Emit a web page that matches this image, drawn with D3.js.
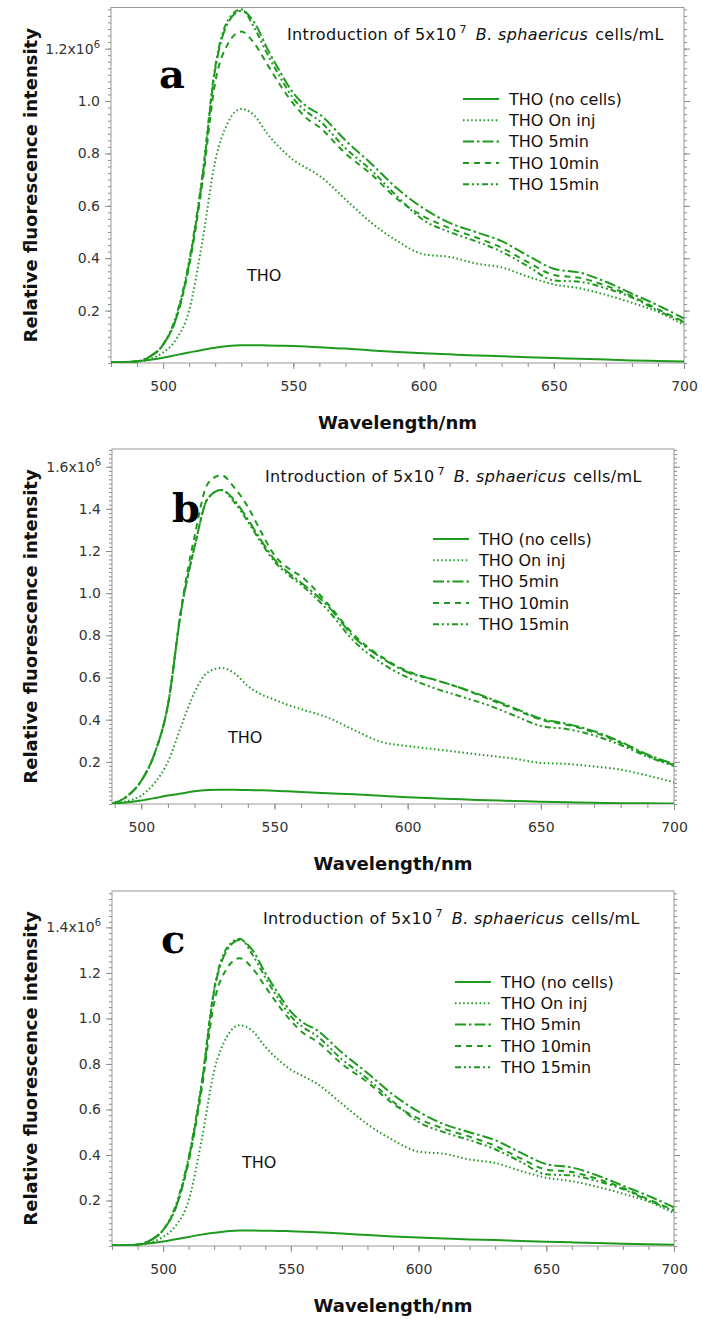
<!DOCTYPE html>
<html>
<head>
<meta charset="utf-8">
<script src="https://cdn.jsdelivr.net/npm/d3@7"></script>
<style>
body { margin: 0; background: #fff; }
svg { display: block; }
</style>
</head>
<body>
<svg id="chart" width="702" height="1319"></svg>
<script>
var wavelengths = [480,485,490,495,500,505,510,515,520,525,530,535,540,545,550,555,560,570,580,590,600,610,620,630,640,650,660,670,680,690,700];

var seriesNames = ["THO (no cells)", "THO On inj", "THO 5min", "THO 10min", "THO 15min"];

// panel a (panel c shows the same traces), intensity in 10^6
var aNoCells = [0.003,0.004,0.007,0.012,0.02,0.03,0.04,0.05,0.058,0.065,0.068,0.068,0.067,0.066,0.065,0.063,0.06,0.055,0.048,0.042,0.037,0.033,0.029,0.026,0.022,0.019,0.016,0.013,0.01,0.008,0.006];
var aOnInj   = [0.002,0.003,0.005,0.015,0.04,0.09,0.2,0.46,0.77,0.92,0.97,0.945,0.875,0.82,0.775,0.745,0.715,0.625,0.535,0.465,0.415,0.405,0.38,0.365,0.33,0.3,0.285,0.26,0.23,0.195,0.145];
var a5min    = [0.002,0.003,0.006,0.025,0.07,0.17,0.38,0.7,1.12,1.3,1.345,1.3,1.2,1.11,1.03,0.98,0.95,0.85,0.76,0.665,0.59,0.535,0.5,0.465,0.41,0.36,0.345,0.31,0.265,0.22,0.17];
var a10min   = [0.002,0.003,0.006,0.025,0.07,0.17,0.37,0.68,1.07,1.22,1.265,1.22,1.14,1.06,0.99,0.935,0.9,0.8,0.72,0.625,0.56,0.515,0.48,0.44,0.385,0.336,0.325,0.295,0.255,0.205,0.158];
var a15min   = [0.002,0.003,0.006,0.025,0.07,0.18,0.39,0.71,1.13,1.31,1.35,1.28,1.18,1.09,1.01,0.96,0.925,0.82,0.735,0.635,0.545,0.5,0.465,0.425,0.37,0.315,0.31,0.285,0.25,0.2,0.155];

// panel b
var bNoCells = [0,0,0.002,0.008,0.017,0.028,0.04,0.05,0.06,0.066,0.068,0.068,0.066,0.065,0.063,0.06,0.057,0.051,0.046,0.039,0.032,0.027,0.022,0.018,0.014,0.011,0.008,0.006,0.004,0.003,0.002];
var bOnInj   = [0,0,0.003,0.015,0.04,0.1,0.2,0.37,0.53,0.625,0.645,0.62,0.56,0.52,0.495,0.47,0.45,0.41,0.35,0.295,0.275,0.26,0.245,0.23,0.215,0.195,0.19,0.178,0.163,0.135,0.103];
var b5min    = [0,0,0.005,0.04,0.11,0.24,0.47,0.92,1.22,1.45,1.49,1.44,1.35,1.25,1.16,1.1,1.05,0.94,0.79,0.695,0.625,0.59,0.55,0.505,0.455,0.405,0.38,0.345,0.295,0.235,0.19];
var b10min   = [0,0,0.005,0.04,0.11,0.24,0.47,0.93,1.27,1.52,1.56,1.5,1.41,1.29,1.18,1.12,1.08,0.95,0.8,0.7,0.63,0.59,0.55,0.5,0.45,0.4,0.375,0.34,0.29,0.23,0.185];
var b15min   = [0,0,0.005,0.04,0.11,0.24,0.47,0.92,1.22,1.45,1.49,1.43,1.34,1.24,1.15,1.09,1.04,0.92,0.77,0.67,0.6,0.55,0.51,0.47,0.42,0.37,0.355,0.325,0.28,0.225,0.18];

var xTicks = [500,550,600,650,700];
var aYTicks = [0.2,0.4,0.6,0.8,1.0,1.2];
var bYTicks = [0.2,0.4,0.6,0.8,1.0,1.2,1.4,1.6];
var cYTicks = [0.2,0.4,0.6,0.8,1.0,1.2,1.4];

var green = "#1e9a1e";
var dashes = ["none", "1.5,2.6", "11,3,2.5,3", "6,5", "6,3,2,3,2,3"];

var svg = d3.select("#chart");

var panels = [
  { id: "a", series: [aNoCells, aOnInj, a5min, a10min, a15min], xMin: 480, yMax: 1.357, yTicks: aYTicks, minorStep: 0.025,
    l: 111, t: 7.5, r: 684, b: 363, titleX: 287, letterX: 159, letterY: 88, legX: 463, legY: 99, thoX: 247, thoY: 281 },
  { id: "b", series: [bNoCells, bOnInj, b5min, b10min, b15min], xMin: 489, yMax: 1.684, yTicks: bYTicks, minorStep: 0.02,
    l: 112, t: 449, r: 674, b: 804, titleX: 265, letterX: 172, letterY: 522, legX: 433, legY: 539, thoX: 228, thoY: 743 },
  { id: "c", series: [aNoCells, aOnInj, a5min, a10min, a15min], xMin: 480, yMax: 1.56, yTicks: cYTicks, minorStep: 0.025,
    l: 112, t: 891, r: 674, b: 1246, titleX: 263, letterX: 161, letterY: 953, legX: 455, legY: 982, thoX: 242, thoY: 1168 }
];

function styleAxis(sel) {
  sel.select(".domain").remove();
  sel.selectAll("line").attr("stroke", "#8c8c8c");
  sel.attr("font-family", "DejaVu Sans").attr("font-size", 14);
  sel.selectAll("text").attr("fill", "#333");
}

panels.forEach(function(p) {
  var g = svg.append("g");
  var x = d3.scaleLinear().domain([p.xMin, 700]).range([p.l, p.r]);
  var y = d3.scaleLinear().domain([0, p.yMax]).range([p.b, p.t]);

  // minor and major ticks
  var xMinor = d3.range(Math.ceil(p.xMin / 10) * 10, 701, 10);
  var yMinor = d3.range(0, p.yMax, p.minorStep);

  g.append("g").attr("transform", "translate(0," + p.b + ")")
    .call(d3.axisBottom(x).tickValues(xMinor).tickSize(4).tickFormat("")).call(styleAxis);
  g.append("g").attr("transform", "translate(0," + p.b + ")")
    .call(d3.axisBottom(x).tickValues(xTicks).tickSize(6).tickPadding(12).tickFormat(d3.format("d"))).call(styleAxis);

  g.append("g").attr("transform", "translate(" + p.l + ",0)")
    .call(d3.axisLeft(y).tickValues(yMinor).tickSize(3).tickFormat("")).call(styleAxis);
  var yl = g.append("g").attr("transform", "translate(" + p.l + ",0)")
    .call(d3.axisLeft(y).tickValues(p.yTicks).tickSize(6).tickPadding(5).tickFormat(d3.format(".1f"))).call(styleAxis);
  var top = p.yTicks[p.yTicks.length - 1];
  yl.selectAll(".tick text").filter(function(d) { return d === top; })
    .text(d3.format(".1f")(top) + "x10")
    .append("tspan").attr("dy", "-0.6em").attr("font-size", 10).text("6");

  g.append("g").attr("transform", "translate(" + p.r + ",0)")
    .call(d3.axisRight(y).tickValues(yMinor).tickSize(3).tickFormat("")).call(styleAxis);
  g.append("g").attr("transform", "translate(" + p.r + ",0)")
    .call(d3.axisRight(y).tickValues(p.yTicks).tickSize(6).tickFormat("")).call(styleAxis);

  g.append("rect").attr("x", p.l).attr("y", p.t).attr("width", p.r - p.l).attr("height", p.b - p.t)
    .attr("fill", "none").attr("stroke", "#999").attr("stroke-width", 1);

  // traces
  g.append("clipPath").attr("id", "clip-" + p.id).append("rect")
    .attr("x", p.l).attr("y", p.t).attr("width", p.r - p.l).attr("height", p.b - p.t);

  var line = d3.line()
    .x(function(d) { return x(d[0]); })
    .y(function(d) { return y(d[1]); })
    .curve(d3.curveMonotoneX);

  p.series.forEach(function(vals, i) {
    var pts = wavelengths.map(function(w, k) { return [w, vals[k]]; });
    if (p.xMin > 480) pts = [[p.xMin, 0]].concat(pts.filter(function(d) { return d[0] > p.xMin; }));
    g.append("path")
      .attr("clip-path", "url(#clip-" + p.id + ")")
      .attr("d", line(pts))
      .attr("fill", "none")
      .attr("stroke", green)
      .attr("stroke-width", 2)
      .attr("stroke-dasharray", dashes[i]);
  });

  // title line
  var title = g.append("text").attr("x", p.titleX).attr("y", p.t + 32.5)
    .attr("font-family", "DejaVu Sans").attr("font-size", 16).attr("letter-spacing", 0.35).attr("fill", "#111");
  title.append("tspan").text("Introduction of 5x10");
  title.append("tspan").attr("dx", 3).attr("dy", -7).attr("font-size", 11).text("7");
  title.append("tspan").attr("dx", 9).attr("dy", 7).attr("font-style", "italic").text("B. sphaericus");
  title.append("tspan").attr("dx", 7).text("cells/mL");

  // panel letter
  g.append("text").attr("x", p.letterX).attr("y", p.letterY)
    .attr("font-family", "DejaVu Serif").attr("font-weight", "bold").attr("font-size", 40)
    .attr("fill", "#000").text(p.id);

  // THO label
  g.append("text").attr("x", p.thoX).attr("y", p.thoY)
    .attr("font-family", "DejaVu Sans").attr("font-size", 16).attr("fill", "#111").text("THO");

  // legend
  seriesNames.forEach(function(name, i) {
    var ly = p.legY + i * 21.3;
    g.append("line").attr("x1", p.legX).attr("x2", p.legX + 36).attr("y1", ly).attr("y2", ly)
      .attr("stroke", green).attr("stroke-width", 2).attr("stroke-dasharray", dashes[i]);
    g.append("text").attr("x", p.legX + 46).attr("y", ly).attr("dy", "0.36em")
      .attr("font-family", "DejaVu Sans").attr("font-size", 16).attr("fill", "#111").text(name);
  });

  // axis titles
  g.append("text").attr("x", (p.l + p.r) / 2).attr("y", p.b + 66).attr("text-anchor", "middle")
    .attr("font-family", "DejaVu Sans").attr("font-weight", "bold").attr("font-size", 18).attr("fill", "#111")
    .text("Wavelength/nm");
  g.append("text").attr("transform", "translate(37," + ((p.t + p.b) / 2) + ") rotate(-90)")
    .attr("text-anchor", "middle")
    .attr("font-family", "DejaVu Sans").attr("font-weight", "bold").attr("font-size", 18).attr("fill", "#111")
    .text("Relative fluorescence intensity");
});
</script>
</body>
</html>
